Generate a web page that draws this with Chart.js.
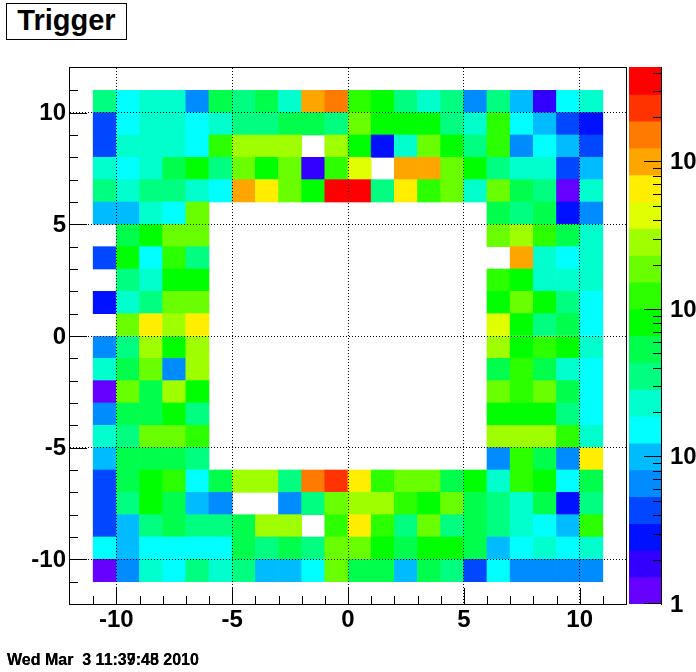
<!DOCTYPE html>
<html><head><meta charset="utf-8">
<style>
html,body{margin:0;padding:0;background:#fff;width:696px;height:672px;overflow:hidden}
#main{position:absolute;left:0;top:0}
#bar{position:absolute;left:620px;top:0}
#title{position:absolute;left:6px;top:3px;width:119px;height:35px;border:1px solid #000;font:bold 29px "Liberation Sans";text-align:center;line-height:32px;color:#000;background:#fff}
.date{position:absolute;left:7px;top:651px;font:bold 16px "Liberation Sans";white-space:pre;color:#000}
</style>
<script src="https://cdn.jsdelivr.net/npm/chart.js@4"></script>
</head><body>
<canvas id="main" width="696" height="672" style="width:696px;height:672px"></canvas>
<canvas id="bar" width="76" height="672" style="width:76px;height:672px"></canvas>
<div id="title">Trigger</div>
<div class="date">Wed Mar  3 11:37:45 2010</div>
<div class="date">Wed Mar  3 11:39:48 2010</div>
<script>
const xBinStart = -11;
const yBinTop = 11;
const xTickValues = [-10,-5,0,5,10];
const yTickValues = [-10,-5,0,5,10];
const zTickValues = [1,10,100,1000];
const zTickLabels = ['1','10','10','10'];
const zMin = 1, zMax = 4365;
const levelEdges = [1,1.52,2.31,3.51,5.33,8.11,12.3,18.7,28.5,43.3,65.8,100,152,231,351,533,811,1233,1873,2848,4365];
const levelColors = ['#6600ff','#3300ff','#0011ff','#0047ff','#008cff','#00bbff','#00ffff','#00ffcc','#00ff80','#00ff4c','#00ff00','#2bff00','#6aff00','#9fff00','#e0ff00','#ffee00','#ffa500','#ff7a00','#ff3300','#ff0000'];
const _ = null;
// counts, rows from top (y = 10..11) to bottom (y = -11..-10), columns x = -11 .. 10
const counts = [
[34,15,22,22,6,51,34,51,22,933,1413,117,78,34,22,34,6,34,10,2,15,22],
[4,15,22,22,15,22,34,34,51,51,34,178,78,78,78,34,22,117,15,10,4,3],
[4,22,22,22,15,117,269,269,269,_,269,78,3,22,178,78,34,117,6,15,10,4],
[22,15,22,51,78,34,178,78,178,2,117,407,_,933,933,178,78,34,22,22,4,10],
[34,22,34,34,22,15,933,617,178,78,3236,3236,34,617,117,178,22,178,51,34,1,22],
[10,10,22,15,178,_,_,_,_,_,_,_,_,_,_,_,_,51,34,51,3,6],
[_,51,78,178,178,_,_,_,_,_,_,_,_,_,_,_,_,178,269,117,51,22],
[4,78,15,117,34,_,_,_,_,_,_,_,_,_,_,_,_,_,933,22,15,22],
[_,34,22,78,78,_,_,_,_,_,_,_,_,_,_,_,_,117,78,22,22,22],
[3,22,34,178,178,_,_,_,_,_,_,_,_,_,_,_,_,78,178,78,34,15],
[_,178,617,269,617,_,_,_,_,_,_,_,_,_,_,_,_,407,78,34,51,15],
[6,34,269,78,269,_,_,_,_,_,_,_,_,_,_,_,_,269,78,117,78,22],
[22,51,178,6,269,_,_,_,_,_,_,_,_,_,_,_,_,51,117,51,22,15],
[1,178,51,269,78,_,_,_,_,_,_,_,_,_,_,_,_,178,117,178,51,15],
[6,51,51,78,34,_,_,_,_,_,_,_,_,_,_,_,_,78,78,78,34,15],
[22,34,178,178,117,_,_,_,_,_,_,_,_,_,_,_,_,269,269,269,117,22],
[10,51,51,51,34,_,_,_,_,_,_,_,_,_,_,_,_,6,117,51,6,617],
[4,51,78,117,15,51,269,269,34,1413,2138,617,117,178,178,51,78,22,117,78,15,51],
[4,34,78,51,10,6,_,_,6,34,178,269,269,117,78,178,51,34,22,51,3,34],
[4,10,34,51,34,34,51,269,269,_,117,617,117,34,178,34,51,34,22,15,10,117],
[15,10,15,15,15,15,51,34,51,34,178,178,78,51,78,78,51,10,15,22,15,22],
[1,6,22,15,34,22,34,10,10,15,178,51,51,10,51,34,4,15,6,6,6,6]
];

function colorFor(v){
  for(let i=0;i<levelColors.length;i++) if(v<levelEdges[i+1]) return levelColors[i];
  return levelColors[levelColors.length-1];
}
const cells=[];
counts.forEach((row,r)=>row.forEach((z,c)=>{
  if(z===null) return;
  const x=xBinStart+c+0.5, top=yBinTop-r;
  cells.push({x:x,y:[top-1,top],z:z});
}));

const FONT={family:'"Liberation Sans"',size:24,weight:'bold'};
const framePlugin={id:'frame',afterDraw(ch){
  const c=ch.ctx,a=ch.chartArea,sx=ch.scales.x,sy=ch.scales.y;
  c.save();c.strokeStyle='#000';c.lineWidth=1;
  c.strokeRect(a.left-.5,a.top-.5,a.right-a.left+1,a.bottom-a.top+1);
  c.beginPath();
  for(let v=-11;v<=11;v++){
    const major=v%5===0;
    const px=Math.round(sx.getPixelForValue(v))+.5;
    c.moveTo(px,a.bottom);c.lineTo(px,a.bottom-(major?16:8));
    const py=Math.round(sy.getPixelForValue(v))+.5;
    c.moveTo(a.left,py);c.lineTo(a.left+(major?17:8),py);
  }
  c.stroke();c.restore();
}};
new Chart(document.getElementById('main'),{
  type:'bar',
  data:{datasets:[{data:cells,backgroundColor:ctx=>ctx.raw?colorFor(ctx.raw.z):'#fff',borderWidth:0,barPercentage:1,categoryPercentage:1}]},
  options:{responsive:false,animation:false,
    layout:{padding:{top:68,right:70,bottom:0,left:0}},
    plugins:{legend:{display:false},tooltip:{enabled:false},title:{display:false}},
    scales:{
      x:{type:'linear',offset:false,min:-12,max:12,
        afterBuildTicks:s=>{s.ticks=xTickValues.map(v=>({value:v}))},
        afterFit:s=>{s.height=68},
        grid:{color:'#000',z:1,drawTicks:false,lineWidth:1,offset:false},
        border:{display:false,dash:[1,2]},
        ticks:{color:'#000',font:FONT,padding:2,maxRotation:0,autoSkip:false,callback:v=>String(v)}},
      y:{type:'linear',min:-12,max:12,
        afterBuildTicks:s=>{s.ticks=yTickValues.map(v=>({value:v}))},
        afterFit:s=>{s.width=70},
        grid:{color:'#000',z:1,drawTicks:false,lineWidth:1},
        border:{display:false,dash:[1,2]},
        ticks:{color:'#000',font:FONT,padding:4,labelOffset:1,autoSkip:false,callback:v=>String(v)}}
    }},
  plugins:[framePlugin]
});

const barCells=levelColors.map((col,i)=>({x:0,y:[levelEdges[i],levelEdges[i+1]]}));
const paletteTicks={id:'paletteTicks',afterDraw(ch){
  const c=ch.ctx,a=ch.chartArea,s=ch.scales.y;
  c.save();c.strokeStyle='#000';c.lineWidth=1;c.beginPath();
  c.moveTo(a.right+.5,a.top);c.lineTo(a.right+.5,a.bottom+1);
  for(let d=1;d<=1000;d*=10)for(let k=1;k<=9;k++){
    const v=d*k; if(v>zMax) break;
    const py=Math.round(s.getPixelForValue(v))+(k===1&&d===1?-.5:.5);
    c.moveTo(a.right,py);c.lineTo(a.right-(k===1?17:8),py);
  }
  c.stroke();c.restore();
}};
new Chart(document.getElementById('bar'),{
  type:'bar',
  data:{datasets:[{data:barCells,backgroundColor:levelColors,borderWidth:0,barPercentage:1,categoryPercentage:1}]},
  options:{responsive:false,animation:false,
    layout:{padding:{top:67,bottom:68,left:9,right:0}},
    plugins:{legend:{display:false},tooltip:{enabled:false}},
    scales:{
      x:{type:'linear',offset:false,min:-1,max:1,display:false,
        afterBuildTicks:s=>{s.ticks=[{value:0}]}},
      y:{type:'logarithmic',position:'right',min:zMin,max:zMax,
        afterBuildTicks:s=>{s.ticks=zTickValues.map(v=>({value:v}))},
        afterFit:s=>{s.width=35},
        grid:{display:false,drawTicks:false},border:{display:false},
        ticks:{color:'#000',font:FONT,padding:9,labelOffset:1,autoSkip:false,
          callback:(v,i)=>zTickLabels[i]}}
    }},
  plugins:[paletteTicks]
});
</script>
</body></html>
